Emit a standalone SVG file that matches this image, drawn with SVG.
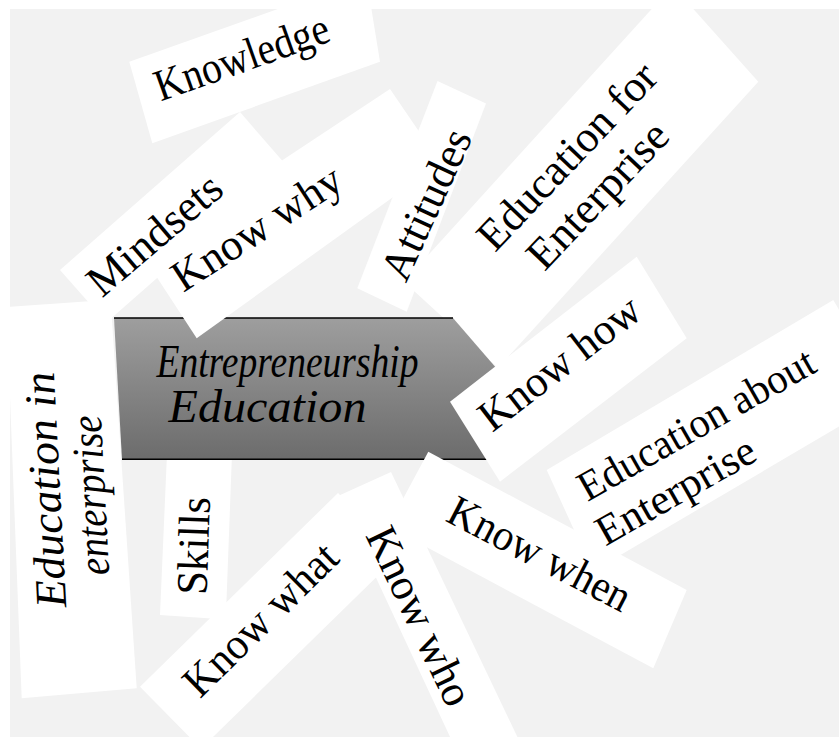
<svg xmlns="http://www.w3.org/2000/svg" width="839" height="738" viewBox="0 0 839 738">
<defs>
<linearGradient id="g" x1="0" y1="0" x2="0" y2="1">
<stop offset="0" stop-color="#9e9e9e"/>
<stop offset="1" stop-color="#6c6c6c"/>
</linearGradient>
<style>
.card{fill:#fff}
.ln{stroke:#000;stroke-width:1.5}
</style>
</defs>
<rect width="839" height="738" fill="#fff"/>
<rect x="10" y="9" width="829" height="728" fill="#f2f2f2"/>

<g id="education-in-enterprise">
<polygon class="card" points="6.5,307 110.6,299.7 136.7,688.3 21.7,698.3"/>
<text font-family="Liberation Serif" font-size="44" font-style="italic" text-anchor="middle" transform="translate(45,490) rotate(-93)" y="15" textLength="236" lengthAdjust="spacingAndGlyphs">Education in</text>
<text font-family="Liberation Serif" font-size="44" font-style="italic" text-anchor="middle" transform="translate(97,495) rotate(-93)" y="8" textLength="160" lengthAdjust="spacingAndGlyphs">enterprise</text>
</g>
<g id="skills">
<polygon class="card" points="167.6,440 232.5,440 225.8,619.6 160,615"/>
<text font-family="Liberation Serif" font-size="44" text-anchor="middle" transform="translate(193.3,545.8) rotate(-88)" y="15" textLength="98" lengthAdjust="spacingAndGlyphs">Skills</text>
</g>
<g id="knowledge">
<polygon class="card" points="129.3,61.7 366.3,-22.4 380,61.7 152.3,143.3"/>
<text font-family="Liberation Serif" font-size="45" text-anchor="middle" transform="translate(243.3,61.7) rotate(-19.5)" y="10" textLength="182" lengthAdjust="spacingAndGlyphs">Knowledge</text>
</g>
<g id="education-for-enterprise">
<polygon class="card" points="404,281.7 672.7,-14.1 758.3,81.7 498,368"/>
<text font-family="Liberation Serif" font-size="44" text-anchor="middle" transform="translate(566.7,155.8) rotate(-46.5)" y="15" textLength="240" lengthAdjust="spacingAndGlyphs">Education for</text>
<text font-family="Liberation Serif" font-size="44" text-anchor="middle" transform="translate(600.8,198.3) rotate(-46.5)" y="10" textLength="185" lengthAdjust="spacingAndGlyphs">Enterprise</text>
</g>
<g id="entrepreneurship-education">
<polygon points="114,318 453,318 525,401.5 495,459.3 122,459.3" fill="url(#g)"/>
<line class="ln" x1="114" y1="318" x2="453" y2="318"/>
<line class="ln" x1="122" y1="459.3" x2="495" y2="459.3"/>
<text font-family="Liberation Serif" font-size="46" font-style="italic" text-anchor="middle" x="287.5" y="377" textLength="262" lengthAdjust="spacingAndGlyphs">Entrepreneurship</text>
<text font-family="Liberation Serif" font-size="46" font-style="italic" text-anchor="middle" x="267.5" y="421.5" textLength="198" lengthAdjust="spacingAndGlyphs">Education</text>
</g>
<g id="know-why">
<polygon class="card" points="141.4,253.6 390,89 440.5,163 196.7,338.3"/>
<text font-family="Liberation Serif" font-size="44" text-anchor="middle" transform="translate(259.2,231.7) rotate(-33)" y="10" textLength="194" lengthAdjust="spacingAndGlyphs">Know why</text>
</g>
<g id="mindsets">
<polygon class="card" points="60,270 240,112 286,165 106.4,322.4"/>
<text font-family="Liberation Serif" font-size="44" text-anchor="middle" transform="translate(154.2,234.2) rotate(-40.5)" y="15" textLength="163" lengthAdjust="spacingAndGlyphs">Mindsets</text>
</g>
<g id="attitudes">
<polygon class="card" points="357.3,288.3 437.5,81 486,103.5 406.7,311.7"/>
<text font-family="Liberation Serif" font-size="44" text-anchor="middle" transform="translate(425.8,204.2) rotate(-65.5)" y="15" textLength="161" lengthAdjust="spacingAndGlyphs">Attitudes</text>
</g>
<g id="know-how">
<polygon class="card" points="450,401.7 636.7,256.7 686.7,338.3 500,481.7"/>
<text font-family="Liberation Serif" font-size="44" text-anchor="middle" transform="translate(559.2,362.5) rotate(-37.6)" y="15" textLength="192" lengthAdjust="spacingAndGlyphs">Know how</text>
</g>
<g id="education-about-enterprise">
<polygon class="card" points="546.7,470 833.3,300 889.3,397 592.9,571.2"/>
<text font-family="Liberation Serif" font-size="42" text-anchor="middle" transform="translate(695.8,423.3) rotate(-29.6)" y="15" textLength="266" lengthAdjust="spacingAndGlyphs">Education about</text>
<text font-family="Liberation Serif" font-size="42" text-anchor="middle" transform="translate(677.5,494.2) rotate(-29.6)" y="10" textLength="177" lengthAdjust="spacingAndGlyphs">Enterprise</text>
</g>
<g id="know-what">
<polygon class="card" points="140,686.7 338,493 399,555 201,748.7"/>
<text font-family="Liberation Serif" font-size="44" text-anchor="middle" transform="translate(260,619.2) rotate(-44.5)" y="15" textLength="198" lengthAdjust="spacingAndGlyphs">Know what</text>
</g>
<g id="know-when">
<polygon class="card" points="428.3,451.7 686.7,590 653.3,668.3 388.1,526.6"/>
<text font-family="Liberation Serif" font-size="44" text-anchor="middle" transform="translate(540,553.3) rotate(27.5)" y="15" textLength="200" lengthAdjust="spacingAndGlyphs">Know when</text>
</g>
<g id="know-who">
<polygon class="card" points="338,496 391,472 528.4,760 460.8,760"/>
<text font-family="Liberation Serif" font-size="44" text-anchor="middle" transform="translate(420,615.8) rotate(64.5)" y="15" textLength="193" lengthAdjust="spacingAndGlyphs">Know who</text>
</g>
<g id="connectors"></g>
</svg>
